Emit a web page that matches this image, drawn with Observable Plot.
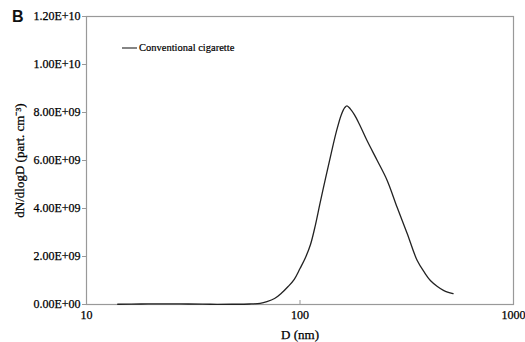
<!DOCTYPE html>
<html>
<head>
<meta charset="utf-8">
<script src="https://cdn.jsdelivr.net/npm/d3@7"></script>
<script src="https://cdn.jsdelivr.net/npm/@observablehq/plot@0.6"></script>
<style>
  html, body { margin: 0; padding: 0; background: #fff; }
  #wrap { position: relative; width: 525px; height: 342px; }
  #chart svg, #chart svg text { font-family: 'Liberation Serif', 'Times New Roman', serif !important; }
  #chart svg text { stroke: #000; stroke-width: 0.25px; }
  #panel { position: absolute; left: 12px; top: 8px; font-family: 'Liberation Sans', Arial, sans-serif; font-weight: bold; font-size: 16px; color: #111; }
  #legend { position: absolute; left: 122px; top: 42px; font-family: 'Liberation Serif', 'Times New Roman', serif; font-size: 10.5px; color: #000; display: flex; align-items: center; -webkit-text-stroke: 0.2px #000; }
  #legend svg { margin-right: 2px; }
</style>
</head>
<body>
<div id="wrap">
  <div id="chart"></div>
  <div id="panel">B</div>
  <div id="legend"><svg width="15" height="4"><line x1="0" x2="15" y1="2" y2="2" stroke="#333" stroke-width="1.2"/></svg><span>Conventional cigarette</span></div>
</div>
<script>
const seriesName = "Conventional cigarette";
const diameters = [14, 18, 22, 26, 30, 38, 48, 58, 65, 70, 76, 82, 88, 94, 100, 106, 112, 118, 124, 132, 140, 148, 156, 162, 166, 172, 180, 190, 206, 230, 256, 285, 318, 354, 385, 408, 440, 472, 521];
const concentrations = [0.01, 0.02, 0.03, 0.025, 0.02, 0.01, 0.01, 0.02, 0.05, 0.12, 0.25, 0.48, 0.75, 1.05, 1.5, 1.95, 2.5, 3.3, 4.2, 5.3, 6.3, 7.2, 7.9, 8.2, 8.28, 8.15, 7.9, 7.5, 6.83, 6.0, 5.17, 4.05, 2.95, 1.83, 1.3, 1.0, 0.75, 0.58, 0.45].map(v => v * 1e9);
const yTicks = [0, 2e9, 4e9, 6e9, 8e9, 10e9, 12e9];
const xTicks = [10, 100, 1000];

const data = diameters.map((d, i) => ({D: d, N: concentrations[i]}));
const fmtE = v => {
  if (v === 0) return "0.00E+00";
  return v.toExponential(2).toUpperCase().replace(/E([+-])(\d)$/, "E$10$2");
};
const font = "'Liberation Serif', 'Times New Roman', serif";

const chart = Plot.plot({
  width: 525,
  height: 342,
  marginLeft: 86,
  marginRight: 12,
  marginTop: 16,
  marginBottom: 38,
  style: {fontFamily: font, fontSize: "12px", color: "#000", background: "#fff"},
  x: {type: "log", domain: [10, 1000]},
  y: {domain: [0, 12e9]},
  marks: [
    Plot.frame({stroke: "#999", strokeWidth: 1.2}),
    Plot.axisY({ticks: yTicks, tickFormat: fmtE, tickSize: 4, tickPadding: 2, stroke: "#999", fill: "#000", fontSize: 12, label: null}),
    Plot.axisY({ticks: [], label: "dN/dlogD (part. cm\u207B\u00B3)", labelAnchor: "center", labelArrow: "none", labelOffset: 72, fontSize: 13, fill: "#000"}),
    Plot.axisX({ticks: xTicks, tickFormat: d => String(d), tickSize: -4, tickPadding: 10, stroke: "#999", fill: "#000", fontSize: 12, label: null}),
    Plot.axisX({ticks: [], label: "D (nm)", labelAnchor: "center", labelArrow: "none", labelOffset: 34, fontSize: 13, fill: "#000"}),
    Plot.line(data, {x: "D", y: "N", curve: "catmull-rom", stroke: "#222", strokeWidth: 1.3})
  ]
});
document.getElementById("chart").appendChild(chart);
</script>
</body>
</html>
